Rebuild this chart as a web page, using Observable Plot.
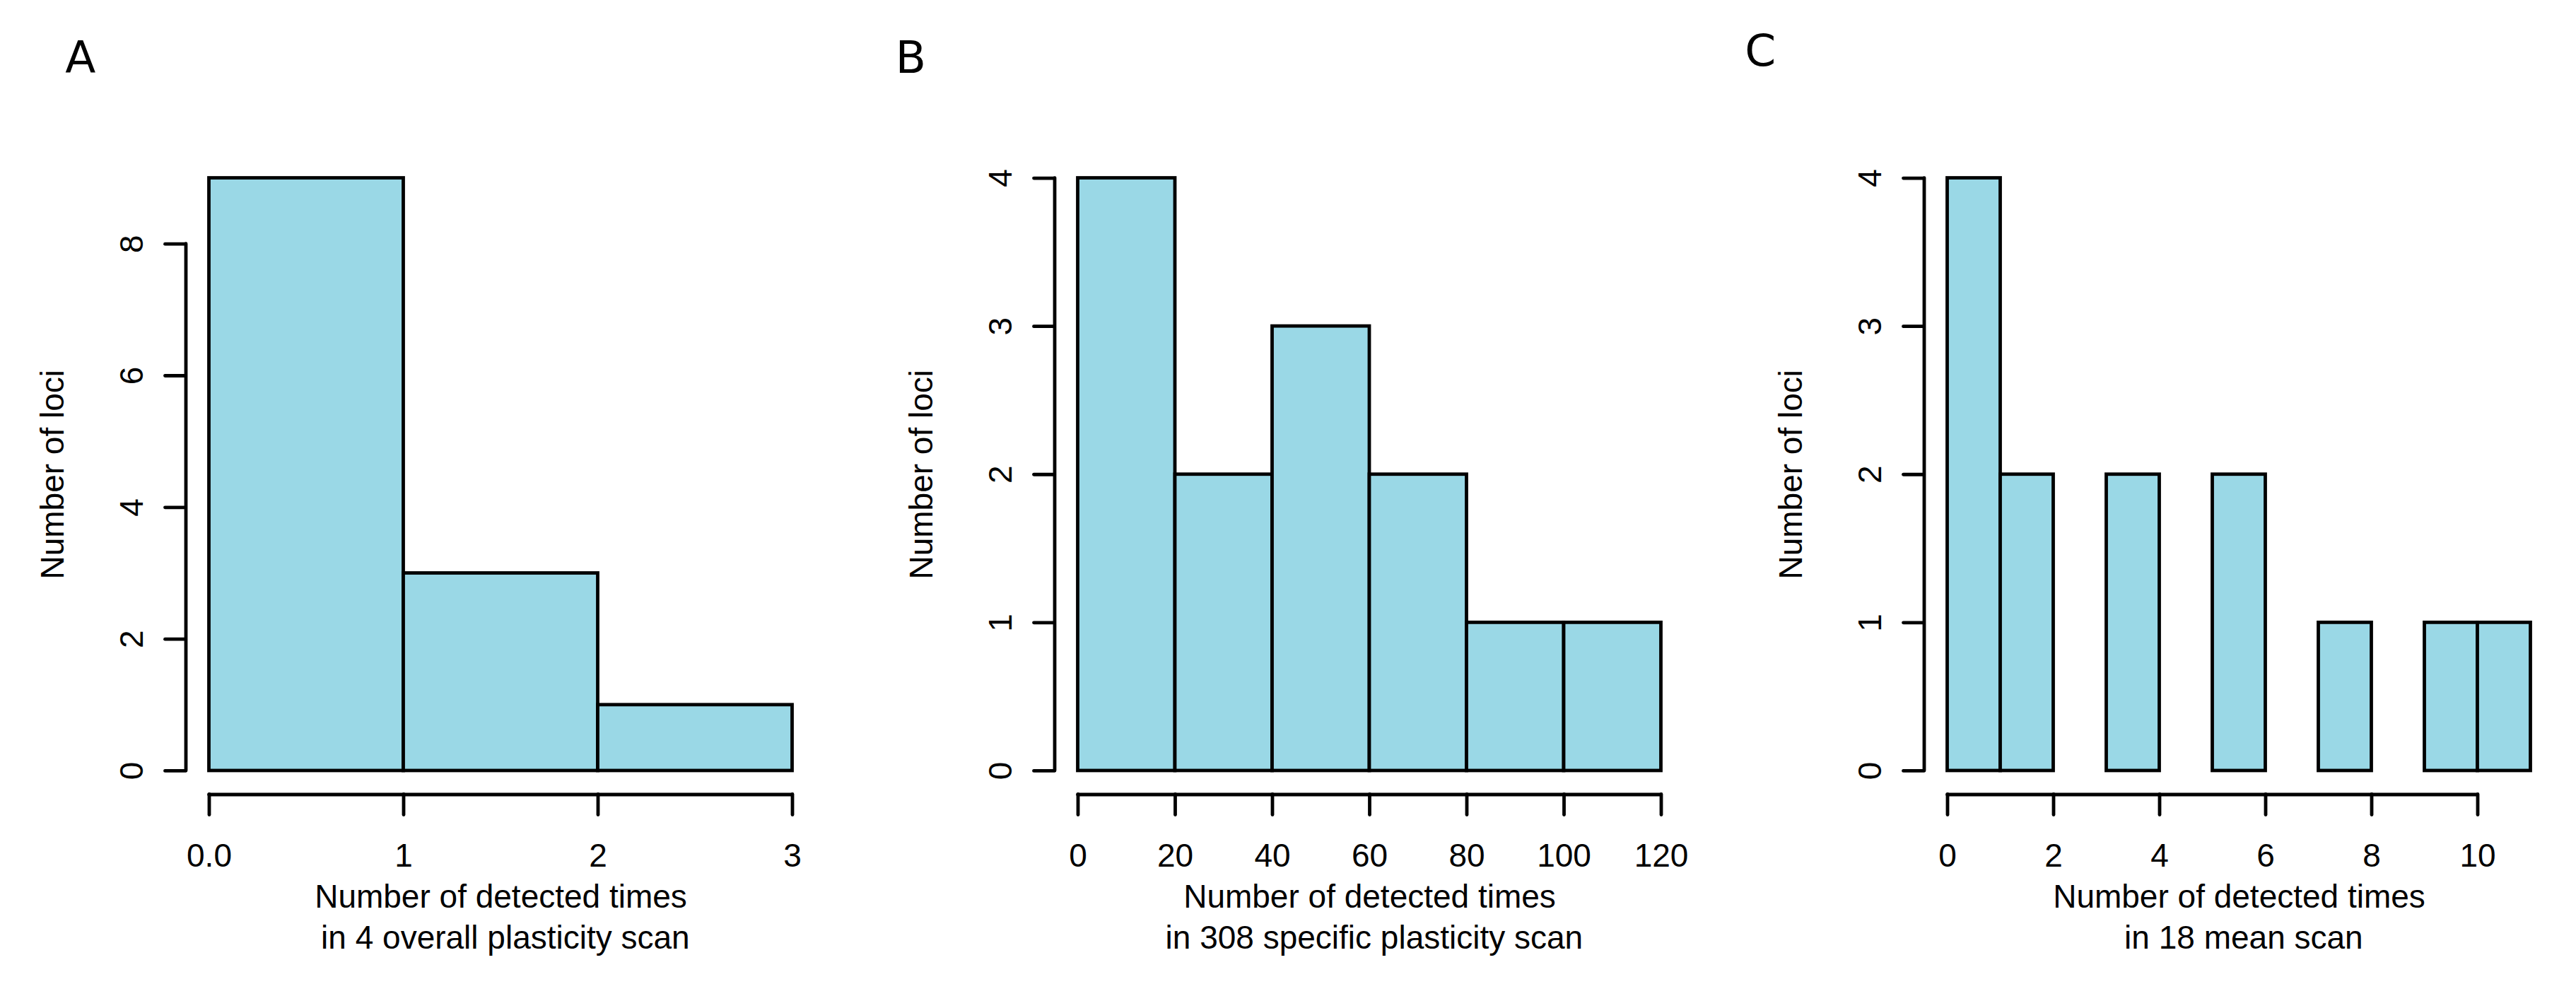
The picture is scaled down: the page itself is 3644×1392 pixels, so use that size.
<!DOCTYPE html>
<html><head><meta charset="utf-8">
<script src="https://cdn.jsdelivr.net/npm/d3@7"></script>
<script src="https://cdn.jsdelivr.net/npm/@observablehq/plot@0.6"></script>
<style>
html,body{margin:0;padding:0;background:#fff;}
#fig{position:relative;width:3644px;height:1392px;overflow:hidden;background:#fff;}
.panel{position:absolute;top:0;}
svg text{white-space:pre;}
</style></head><body><div id="fig"></div>
<script>
// ---- data ----
const panelLetters = ["A", "B", "C"];
const yTitle = "Number of loci";

const edgesA = [0, 1, 2, 3];
const countsA = [9, 3, 1];
const xTicksA = [0, 1, 2, 3];
const xTickLabelsA = ["0.0", "1", "2", "3"];
const yTicksA = [0, 2, 4, 6, 8];
const yTickLabelsA = ["0", "2", "4", "6", "8"];
const xTitleA = "Number of detected times\n in 4 overall plasticity scan";

const edgesB = [0, 20, 40, 60, 80, 100, 120];
const countsB = [4, 2, 3, 2, 1, 1];
const xTicksB = [0, 20, 40, 60, 80, 100, 120];
const xTickLabelsB = ["0", "20", "40", "60", "80", "100", "120"];
const yTicksB = [0, 1, 2, 3, 4];
const yTickLabelsB = ["0", "1", "2", "3", "4"];
const xTitleB = "Number of detected times\n in 308 specific plasticity scan";

const edgesC = [0, 1, 2, 3, 4, 5, 6, 7, 8, 9, 10, 11];
const countsC = [4, 2, 0, 2, 0, 2, 0, 1, 0, 1, 1];
const xTicksC = [0, 2, 4, 6, 8, 10];
const xTickLabelsC = ["0", "2", "4", "6", "8", "10"];
const yTicksC = [0, 1, 2, 3, 4];
const yTickLabelsC = ["0", "1", "2", "3", "4"];
const xTitleC = "Number of detected times\n in 18 mean scan";

// ---- style ----
const BAR_FILL = "#9ad8e6";
const LW = 4.8;
const FONT = "'Liberation Sans', Arial, Helvetica, sans-serif";
const LETTER_FONT = "'DejaVu Sans', sans-serif";

const layout = [
  {left: 0,       width: 1229.25, letterDx: -170.8, letterDy: -115.3},
  {left: 1229.25, width: 1229.25, letterDx: -225.3, letterDy: -115.3},
  {left: 2458.5,  width: 1185.5,  letterDx: -253.8, letterDy: -125.3}
];

const panels = [
  {edges: edgesA, counts: countsA, xTicks: xTicksA, xTickLabels: xTickLabelsA, yTicks: yTicksA, yTickLabels: yTickLabelsA, xTitle: xTitleA},
  {edges: edgesB, counts: countsB, xTicks: xTicksB, xTickLabels: xTickLabelsB, yTicks: yTicksB, yTickLabels: yTickLabelsB, xTitle: xTitleB},
  {edges: edgesC, counts: countsC, xTicks: xTicksC, xTickLabels: xTickLabelsC, yTicks: yTicksC, yTickLabels: yTickLabelsC, xTitle: xTitleC}
];

const fig = document.getElementById("fig");
const ML = 262.5, PW = 891, MT = 218, MB = 268.5, H = 1392;

panels.forEach((p, k) => {
  const L = layout[k];
  const bins = p.counts.map((c, i) => ({x1: p.edges[i], x2: p.edges[i + 1], count: c}));
  const xlo = p.edges[0], xhi = p.edges[p.edges.length - 1];
  const ymax = d3.max(p.counts);
  const xpad = 0.04 * (xhi - xlo), ypad = 0.04 * ymax;
  const xDomain = [xlo - xpad, xhi + xpad];
  const yDomain = [-ypad, ymax + ypad];

  const chart = Plot.plot({
    width: L.width,
    height: H,
    marginLeft: ML,
    marginRight: L.width - ML - PW,
    marginTop: MT,
    marginBottom: MB,
    x: {domain: xDomain, axis: null},
    y: {domain: yDomain, axis: null},
    style: {fontFamily: FONT, fontSize: "46px", color: "#000", background: "#fff", overflow: "visible"},
    marks: [
      Plot.rect(bins, {filter: d => d.count > 0, x1: "x1", x2: "x2", y1: 0, y2: "count",
        fill: BAR_FILL, stroke: "#000", strokeWidth: LW}),
      Plot.ruleY([yDomain[0]], {x1: p.xTicks[0], x2: p.xTicks[p.xTicks.length - 1],
        stroke: "#000", strokeWidth: LW, strokeLinecap: "round"}),
      Plot.ruleX([xDomain[0]], {y1: p.yTicks[0], y2: p.yTicks[p.yTicks.length - 1],
        stroke: "#000", strokeWidth: LW, strokeLinecap: "round"}),
      Plot.axisX(p.xTicks, {tickSize: 29, tickPadding: 40, strokeWidth: LW, strokeLinecap: "round",
        tickFormat: d => p.xTickLabels[p.xTicks.indexOf(d)], fontSize: 46, label: null}),
      Plot.axisY(p.yTicks, {tickSize: 29, tickPadding: 32, tickRotate: -90, strokeWidth: LW,
        strokeLinecap: "round", tickFormat: d => p.yTickLabels[p.yTicks.indexOf(d)],
        fontSize: 46, label: null}),
      Plot.text([p.xTitle], {frameAnchor: "bottom", dy: 119.5, lineAnchor: "top", lineHeight: 1.25,
        textAnchor: "middle", text: d => d, fontSize: 46, fill: "#000"}),
      Plot.text([yTitle], {frameAnchor: "left", rotate: -90, dx: -173, lineAnchor: "bottom",
        textAnchor: "middle", text: d => d, fontSize: 46, fill: "#000"}),
      Plot.text([panelLetters[k]], {frameAnchor: "top-left", dx: L.letterDx, dy: L.letterDy,
        lineAnchor: "bottom", textAnchor: "start", text: d => d,
        fontFamily: LETTER_FONT, fontSize: 63, fill: "#000"})
    ]
  });
  const div = document.createElement("div");
  div.className = "panel";
  div.style.left = L.left + "px";
  div.appendChild(chart);
  fig.appendChild(div);
});
</script>
</body></html>
